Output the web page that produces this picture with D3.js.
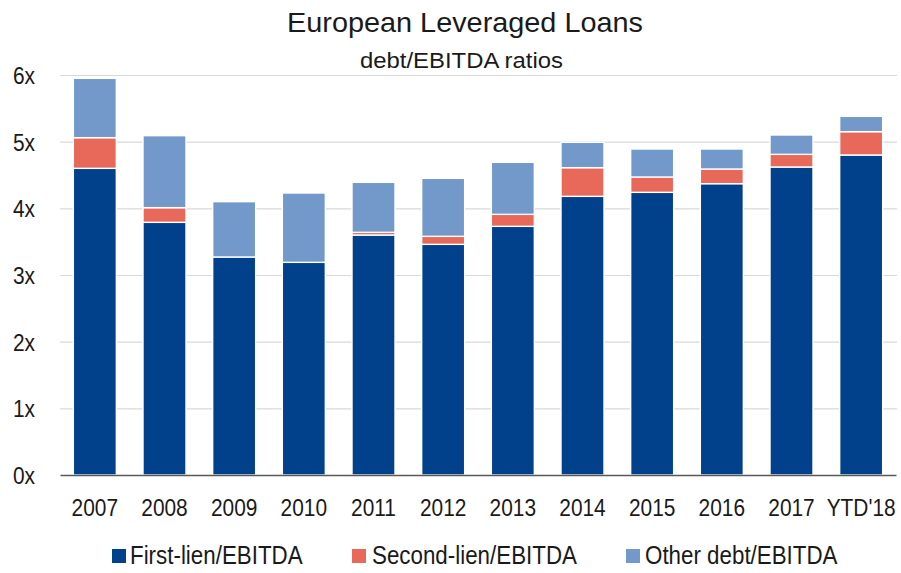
<!DOCTYPE html>
<html>
<head>
<meta charset="utf-8">
<script src="https://cdn.jsdelivr.net/npm/d3@7"></script>
<style>
  html, body { margin: 0; padding: 0; background: #fff; }
  svg { display: block; font-family: "Liberation Sans", Arial, sans-serif; }
</style>
</head>
<body>
<svg id="chart" width="901" height="573"></svg>
<script>
// Leverage multiples (x EBITDA) by year
const years = ["2007", "2008", "2009", "2010", "2011", "2012", "2013", "2014", "2015", "2016", "2017", "YTD'18"];
const firstLien  = [4.60, 3.79, 3.27, 3.19, 3.60, 3.46, 3.73, 4.18, 4.24, 4.37, 4.62, 4.80];
const secondLien = [0.46, 0.22, 0.00, 0.00, 0.04, 0.12, 0.18, 0.43, 0.23, 0.22, 0.19, 0.35];
const otherDebt  = [0.89, 1.08, 0.83, 1.04, 0.75, 0.87, 0.78, 0.38, 0.42, 0.30, 0.29, 0.23];
const yTicks = [0, 1, 2, 3, 4, 5, 6];

const seriesKeys   = ["first", "second", "other"];
const seriesLabels = ["First-lien/EBITDA", "Second-lien/EBITDA", "Other debt/EBITDA"];
const colors = { first: "#01408B", second: "#E8695A", other: "#7299C9" };

const rows = years.map((yr, i) => ({
  year: yr, first: firstLien[i], second: secondLien[i], other: otherDebt[i]
}));

const svg = d3.select("#chart");
const plotLeft = 60, plotRight = 896, plotTop = 75, plotBottom = 475;
const narrow = 0.87; // condensed look for axis and legend text

const x = d3.scaleBand().domain(years).range([plotLeft, plotRight])
  .paddingInner(0.383).paddingOuter(0.1915);
const y = d3.scaleLinear().domain([0, 6]).range([plotBottom, plotTop]);

// Title block
svg.append("text")
  .attr("x", 465).attr("y", 32)
  .attr("text-anchor", "middle")
  .attr("font-size", 27.5).attr("fill", "#1a1a1a")
  .attr("textLength", 356).attr("lengthAdjust", "spacingAndGlyphs")
  .text("European Leveraged Loans");
svg.append("text")
  .attr("x", 461.5).attr("y", 68)
  .attr("text-anchor", "middle")
  .attr("font-size", 21.5).attr("fill", "#1a1a1a")
  .attr("textLength", 203).attr("lengthAdjust", "spacingAndGlyphs")
  .text("debt/EBITDA ratios");

// Horizontal gridlines
const grid = svg.append("g")
  .attr("transform", `translate(${plotLeft},0)`)
  .call(d3.axisLeft(y).tickValues(yTicks.slice(1)).tickSize(-(plotRight - plotLeft + 1)).tickFormat(""));
grid.select(".domain").remove();
grid.selectAll(".tick line").attr("stroke", "#d9d9d9").attr("stroke-width", 1.2);

// Y labels
const yAxis = svg.append("g")
  .attr("transform", "translate(35,0)")
  .call(d3.axisLeft(y).tickValues(yTicks).tickSize(0).tickPadding(0).tickFormat(d => d + "x"));
yAxis.select(".domain").remove();
yAxis.selectAll(".tick text")
  .attr("x", 0).attr("dy", "0.35em")
  .attr("font-size", 24).attr("fill", "#1a1a1a")
  .attr("font-family", "'Liberation Sans', Arial, sans-serif")
  .attr("transform", `scale(${narrow},1)`);

// Stacked bars
const stack = d3.stack().keys(seriesKeys)(rows);
svg.append("g").selectAll("g")
  .data(stack).join("g")
  .attr("fill", d => colors[d.key])
  .selectAll("rect")
  .data(d => d.filter(s => s[1] - s[0] > 0))
  .join("rect")
  .attr("x", d => x(d.data.year))
  .attr("width", x.bandwidth())
  .attr("y", d => y(d[1]))
  .attr("height", d => y(d[0]) - y(d[1]))
  .attr("stroke", "#fff")
  .attr("stroke-width", 1.4);

// X axis
const xAxis = svg.append("g")
  .attr("transform", `translate(0,${plotBottom})`)
  .call(d3.axisBottom(x).tickSize(0).tickSizeOuter(0));
xAxis.select(".domain").attr("stroke", "#595959").attr("stroke-width", 1.6);
xAxis.selectAll(".tick text")
  .attr("y", 41).attr("dy", 0)
  .attr("font-size", 24).attr("fill", "#1a1a1a")
  .attr("font-family", "'Liberation Sans', Arial, sans-serif")
  .attr("transform", `scale(${narrow},1)`);

// Legend
const legendSquareX = [112, 352, 626];
const legendTextX = [130, 372, 645];
const legend = svg.append("g");
seriesKeys.forEach((k, i) => {
  legend.append("rect")
    .attr("x", legendSquareX[i]).attr("y", 549)
    .attr("width", 14).attr("height", 14)
    .attr("fill", colors[k]);
  legend.append("g")
    .attr("transform", `translate(${legendTextX[i]},564)`)
    .append("text")
    .attr("font-size", 26).attr("fill", "#1a1a1a")
    .attr("transform", "scale(0.86,1)")
    .text(seriesLabels[i]);
});
</script>
</body>
</html>
